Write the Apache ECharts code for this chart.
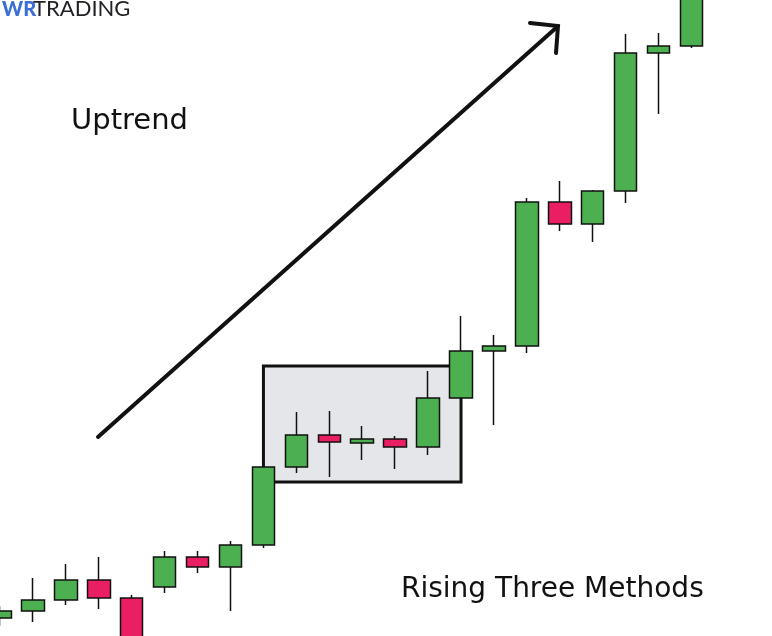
<!DOCTYPE html>
<html>
<head>
<meta charset="utf-8">
<style>
html,body{margin:0;padding:0;background:#fff;}
#c{width:772px;height:636px;}
</style>
<script src="https://cdn.jsdelivr.net/npm/echarts@6/dist/echarts.min.js"></script>
</head>
<body>
<div id="c"></div>
<script>
// Candle index labels
const categories = ['1','2','3','4','5','6','7','8','9','10','11','12','13','14','15','16','17','18','19','20','21','22'];
// Price values (open, close, low, high)
const opens  = [18, 25, 36, 56, 38, 49, 79, 69, 91, 169, 201, 193, 197, 189, 238, 285, 290, 434, 412, 445, 583, 590];
const closes = [25, 36, 56, 38, -12, 79, 69, 91, 169, 201, 194, 197, 189, 238, 285, 290, 434, 412, 445, 583, 590, 660];
const lows   = [10, 14, 31, 27, -20, 43, 63, 25, 88, 163, 159, 176, 167, 181, 238, 211, 283, 405, 394, 433, 522, 588];
const highs  = [30, 58, 72, 79, 41, 85, 85, 95, 171, 224, 225, 210, 200, 265, 320, 301, 438, 455, 446, 602, 603, 670];
// Pattern box: candle range and price range
const boxCandles = ['9', '15'];
const boxPrices = [270, 154];

const candleData = opens.map((o, i) => [o, closes[i], lows[i], highs[i]]);

const chart = echarts.init(document.getElementById('c'), null, {renderer: 'canvas'});
const step = 32.93;
chart.setOption({
  animation: false,
  backgroundColor: '#ffffff',
  grid: {left: 0, width: step * (categories.length - 1), top: 0, bottom: 0, containLabel: false},
  xAxis: {type: 'category', data: categories, show: false, boundaryGap: false},
  yAxis: {type: 'value', min: 0, max: 636, show: false, splitLine: {show: false}},
  series: [{
    type: 'candlestick',
    data: candleData,
    barWidth: 23,
    clip: false,
    itemStyle: {
      color: '#4caf50',
      color0: '#e91e63',
      borderColor: '#111111',
      borderColor0: '#111111',
      borderWidth: 1.5
    },
    markArea: {
      silent: true,
      itemStyle: {color: '#e5e6ea', borderColor: '#111111', borderWidth: 3},
      data: [[{xAxis: boxCandles[0], yAxis: boxPrices[0]}, {xAxis: boxCandles[1], yAxis: boxPrices[1]}]]
    }
  }],
  graphic: [
    {type: 'line', z: 100, shape: {x1: 98, y1: 437, x2: 557, y2: 27}, style: {stroke: '#111', lineWidth: 4, lineCap: 'round'}},
    {type: 'polyline', z: 100, shape: {points: [[530, 23], [558, 26], [556, 53]]}, style: {stroke: '#111', lineWidth: 4, lineCap: 'round', lineJoin: 'miter', fill: null}},
    {type: 'text', z: 100, left: 71, top: 107, style: {text: 'Uptrend', font: '29px "DejaVu Sans"', fill: '#111'}},
    {type: 'text', z: 100, left: 401, top: 576, style: {text: 'Rising Three Methods', font: '28px "DejaVu Sans"', fill: '#111'}},
    {type: 'text', z: 100, x: 2, y: 10, style: {text: 'WR', font: '900 20px Lato', fill: '#3a6fd6', verticalAlign: 'middle'}},
    {type: 'text', z: 100, x: 33, y: 9, style: {text: 'TRADING', font: '400 22px Lato', fill: '#222226', verticalAlign: 'middle'}}
  ]
});
</script>
</body>
</html>
